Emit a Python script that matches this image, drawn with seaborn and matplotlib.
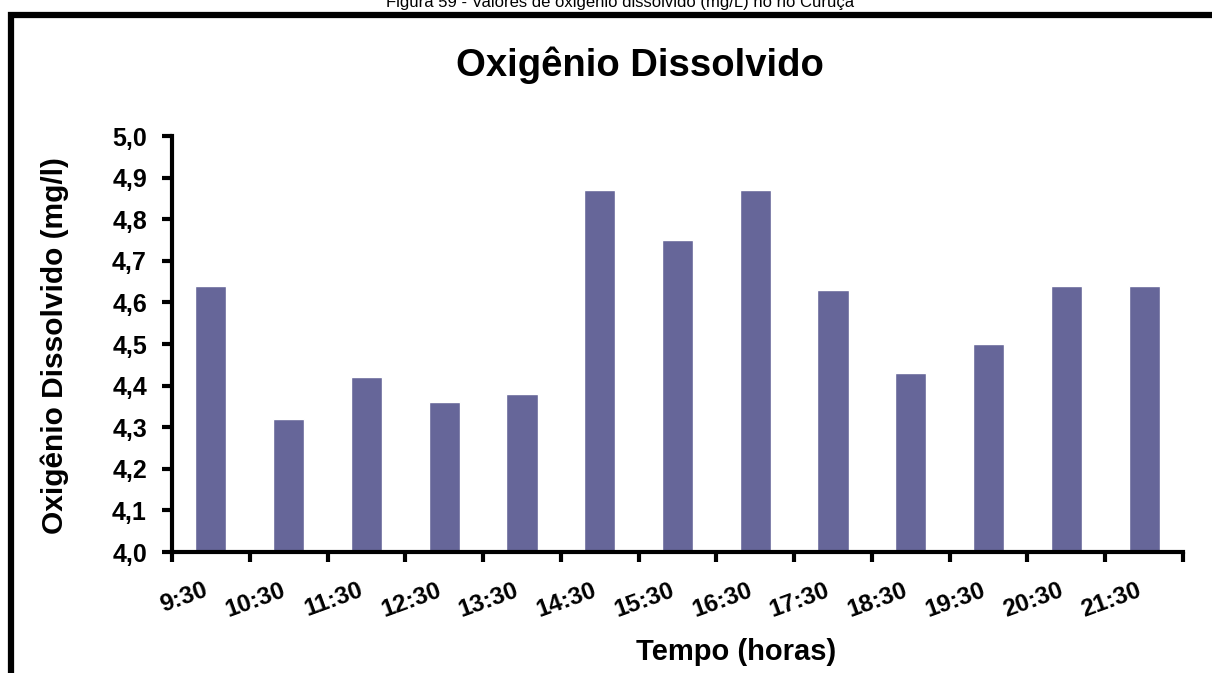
import matplotlib
matplotlib.use("Agg")
import matplotlib.pyplot as plt
import seaborn as sns
import pandas as pd
from matplotlib.patches import Rectangle

times = ["9:30", "10:30", "11:30", "12:30", "13:30", "14:30", "15:30",
         "16:30", "17:30", "18:30", "19:30", "20:30", "21:30"]
oxygen = [4.64, 4.32, 4.42, 4.36, 4.38, 4.87, 4.75, 4.87, 4.63, 4.43, 4.50, 4.64, 4.64]
yticks = [4.0, 4.1, 4.2, 4.3, 4.4, 4.5, 4.6, 4.7, 4.8, 4.9, 5.0]

sns.set_theme(style="white")
plt.rcParams['font.family'] = ['Liberation Sans', 'DejaVu Sans']
plt.rcParams['text.color'] = 'black'
plt.rcParams['axes.labelcolor'] = 'black'
plt.rcParams['xtick.color'] = 'black'
plt.rcParams['ytick.color'] = 'black'

df = pd.DataFrame({"Tempo": times, "OD": oxygen})

fig = plt.figure(figsize=(12.12, 6.73), dpi=100)
ax = fig.add_axes([172/1212, 1-552/673, (1183-172)/1212, (552-136)/673])

sns.barplot(data=df, x="Tempo", y="OD", color="#666699", saturation=1,
            width=0.4, ax=ax)

ax.set_ylim(4.0, 5.0)
ax.set_xlim(-0.5, len(times)-0.5)
ax.set_yticks(yticks)
ax.set_yticklabels([f"{v:.1f}".replace(".", ",") for v in yticks],
                   fontsize=18, fontweight="bold")
ax.set_xticks(range(len(times)))
ax.set_xticklabels(times, fontsize=17.5, fontweight="bold", rotation=20, ha="right")
# ticks at category boundaries
ax.set_xticks([i - 0.5 for i in range(len(times)+1)], minor=True)
ax.tick_params(axis="x", which="major", bottom=False, length=0, pad=19)
ax.tick_params(axis="x", which="minor", bottom=True, length=7, width=3,
               direction="out", color="black")
ax.tick_params(axis="y", which="major", left=True, length=7, width=3,
               direction="out", color="black", pad=11)

for s in ["top", "right"]:
    ax.spines[s].set_visible(False)
for s in ["left", "bottom"]:
    ax.spines[s].set_color("black")
    ax.spines[s].set_linewidth(3)

ax.set_xlabel("Tempo (horas)", fontsize=21, fontweight="bold")
ax.set_ylabel("Oxigênio Dissolvido (mg/l)", fontsize=21.5, fontweight="bold")
ax.xaxis.set_label_coords(0.558, -0.24)
ax.yaxis.set_label_coords(-0.1157, 0.497)
ax.xaxis.label.set_va("center")
ax.yaxis.label.set_va("center")
ax.grid(False)

fig.text(640/1212, 1-65/673, "Oxigênio Dissolvido", fontsize=27.5, fontweight="bold",
         ha="center", va="center")

fig.text(620/1212, 1-7/673, "Figura 59 - Valores de oxigênio dissolvido (mg/L) no rio Curuçá",
         fontsize=12, ha="center", va="baseline")

# outer frame
fig.patches.append(Rectangle((11/1212, -0.1), 1.2, 1-15/673 + 0.1,
                             transform=fig.transFigure, fill=False,
                             edgecolor="black", linewidth=4.5, zorder=10))

fig.savefig("out.png", dpi=100)
